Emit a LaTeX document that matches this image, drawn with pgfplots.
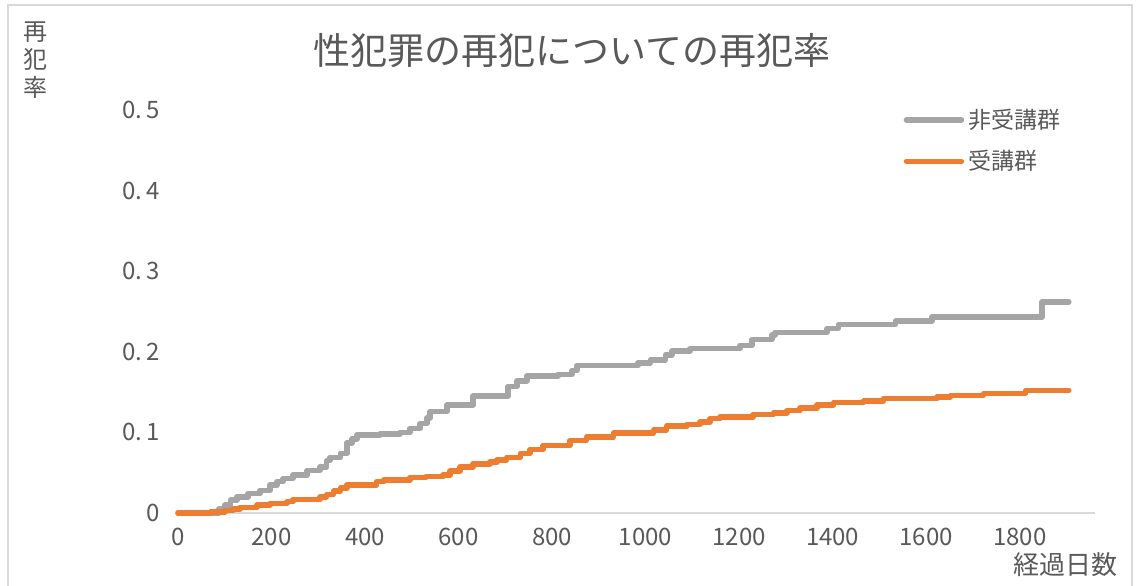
\documentclass[border=0pt]{standalone}
\usepackage{pgfplots}
\pgfplotsset{compat=1.18}
\usepackage{fontspec}
\setmainfont{Noto Sans CJK JP}
\definecolor{textgray}{HTML}{595959}
\definecolor{framegray}{HTML}{D9D9D9}
\definecolor{nongray}{HTML}{A5A5A5}
\definecolor{exorange}{HTML}{ED7D31}

\pgfplotstableread{
day   rate
0     0
88    0.005
100   0.010
112   0.016
126   0.020
150   0.024
175   0.028
197   0.035
212   0.039
225   0.043
246   0.047
276   0.053
304   0.057
318   0.065
325   0.069
347   0.074
361   0.087
372   0.092
383   0.097
432   0.098
475   0.100
496   0.105
518   0.111
532   0.118
539   0.126
575   0.134
631   0.145
706   0.157
725   0.164
746   0.170
813   0.172
843   0.177
853   0.183
984   0.186
1010  0.190
1042  0.196
1056  0.201
1095  0.204
1202  0.208
1227  0.215
1270  0.221
1277  0.224
1388  0.229
1412  0.234
1534  0.238
1612  0.243
1848  0.262
1905  0.262
}\nontreated

\pgfplotstableread{
day   rate
0     0
70    0.001
100   0.003
118   0.005
133   0.007
169   0.010
197   0.012
233   0.014
246   0.017
304   0.020
318   0.023
333   0.027
347   0.031
361   0.035
425   0.039
440   0.041
496   0.044
530   0.045
567   0.047
582   0.052
603   0.057
631   0.061
667   0.063
682   0.066
703   0.069
732   0.074
753   0.079
781   0.084
838   0.090
874   0.094
931   0.099
1017  0.103
1045  0.108
1088  0.110
1116  0.113
1138  0.117
1159  0.119
1230  0.122
1273  0.124
1302  0.127
1330  0.130
1366  0.134
1402  0.137
1466  0.139
1509  0.142
1623  0.144
1652  0.146
1723  0.148
1812  0.152
1905  0.152
}\treated

\begin{document}
\begin{tikzpicture}[x=1pt,y=1pt]
\useasboundingbox (0,0) rectangle (568,292.5);
\draw[framegray, line width=0.75pt] (4,-5) rectangle (566,290);

\begin{axis}[
    at={(89pt,36pt)}, anchor=south west,
    scale only axis,
    width=458.5pt, height=201.5pt,
    xmin=0, xmax=1961, ymin=0, ymax=0.5,
    axis x line*=bottom,
    axis y line*=left,
    y axis line style={draw=none},
    x axis line style={framegray, line width=0.75pt},
    major tick length=0pt,
    xtick={0,200,400,600,800,1000,1200,1400,1600,1800},
    xticklabels={0,200,400,600,800,1000,1200,1400,1600,1800},
    ytick={0,0.1,0.2,0.3,0.4,0.5},
    yticklabels={0,0.\,1,0.\,2,0.\,3,0.\,4,0.\,5},
    tick label style={font=\fontsize{12}{14}\selectfont, text=textgray},
    xticklabel style={yshift=-4pt},
    yticklabel style={xshift=-5.5pt},
    clip=false,
    legend style={at={(axis cs:1551,0.507)}, anchor=north west,
        draw=none, fill=none, inner sep=0pt,
        font=\fontsize{11.5}{13}\selectfont, text=textgray,
        row sep=5.5pt},
    legend cell align=left,
    legend image code/.code={\draw[#1] (0pt,0pt) -- (27.5pt,0pt);},
]
\addplot[const plot, nongray, line width=2.75pt, line cap=round, line join=round]
    table[x=day, y=rate] {\nontreated};
\addlegendentry{非受講群}
\addplot[const plot, exorange, line width=2.75pt, line cap=round, line join=round]
    table[x=day, y=rate] {\treated};
\addlegendentry{受講群}
\end{axis}

\node[font=\fontsize{18.5}{20}\selectfont, text=textgray] at (286,267) {性犯罪の再犯についての再犯率};
\node[font=\fontsize{12}{14}\selectfont, text=textgray, align=center, anchor=north, inner sep=0pt] at (18,282) {再\\犯\\率};
\node[font=\fontsize{13}{15}\selectfont, text=textgray] at (532.5,10) {経過日数};
\end{tikzpicture}
\end{document}
